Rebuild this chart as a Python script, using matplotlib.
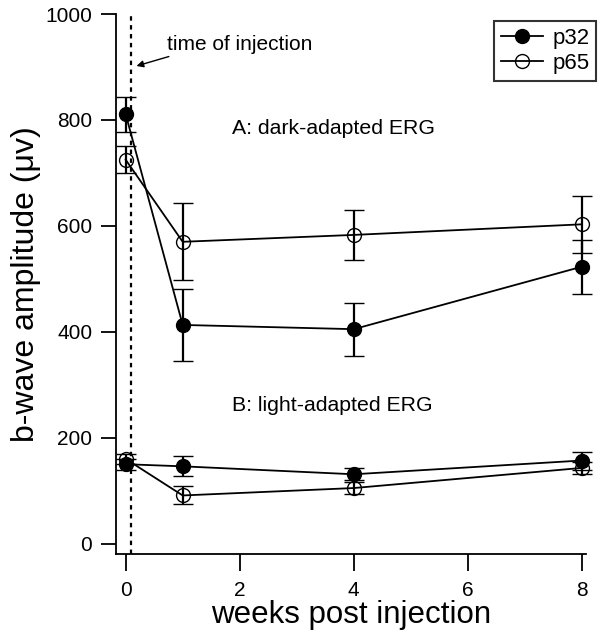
import matplotlib.pyplot as plt
from matplotlib.lines import Line2D

plt.rcParams['font.family'] = ['Liberation Sans', 'DejaVu Sans']

weeks = [0, 1, 4, 8]

# dark-adapted ERG
dark_p32 = [811, 413, 405, 523]
dark_p32_err = [33, 68, 50, 51]
dark_p65 = [725, 570, 583, 603]
dark_p65_err = [25, 73, 47, 54]

# light-adapted ERG
light_p32 = [150, 146, 131, 157]
light_p32_err = [10, 19, 11, 17]
light_p65 = [160, 91, 105, 143]
light_p65_err = [10, 17, 12, 12]

x_ticks = [0, 2, 4, 6, 8]
y_ticks = [0, 200, 400, 600, 800, 1000]

fig = plt.figure(figsize=(6.04, 6.4), dpi=100)
ax = fig.add_axes([0.192, 0.134, 0.778, 0.844])

lw = 1.3
common = dict(color='black', lw=lw, elinewidth=1.6, capsize=7, capthick=1.6,
              markersize=10, markeredgewidth=1.0, clip_on=False)

ax.errorbar(weeks, dark_p65, yerr=dark_p65_err, fmt='-o', mfc='none', **common)
ax.errorbar(weeks, dark_p32, yerr=dark_p32_err, fmt='-o', mfc='black', **common)
ax.errorbar(weeks, light_p65, yerr=light_p65_err, fmt='-o', mfc='none', **common)
ax.errorbar(weeks, light_p32, yerr=light_p32_err, fmt='-o', mfc='black', **common)

ax.axvline(0.1, color='black', lw=1.6, ls=(0, (2, 2)), zorder=0)

ax.annotate('time of injection', xy=(0.19, 902), xytext=(0.72, 943),
            fontsize=15, va='center', ha='left',
            arrowprops=dict(arrowstyle='-|>', color='black', lw=1.0,
                            shrinkA=0, shrinkB=0, mutation_scale=10,
                            relpos=(0.08, 0.0)))

ax.text(1.86, 783, 'A: dark-adapted ERG', fontsize=15.3, va='center')
ax.text(1.86, 260, 'B: light-adapted ERG', fontsize=15.3, va='center')

ax.set_xlim(-0.17, 8.07)
ax.set_ylim(-20, 1000)
ax.set_xticks(x_ticks)
ax.set_yticks(y_ticks)
ax.tick_params(axis='x', direction='out', length=12, width=1.3, labelsize=15, pad=7)
ax.tick_params(axis='y', direction='out', length=11, width=1.3, labelsize=15, pad=6)
ax.spines['top'].set_visible(False)
ax.spines['right'].set_visible(False)
ax.spines['left'].set_linewidth(1.3)
ax.spines['bottom'].set_linewidth(1.3)

ax.set_xlabel('weeks post injection', fontsize=22.5, labelpad=0)
ax.set_ylabel('b-wave amplitude (\u03bcv)', fontsize=23, labelpad=3)

handles = [
    Line2D([], [], color='black', lw=lw, marker='o', markersize=10, mfc='black'),
    Line2D([], [], color='black', lw=lw, marker='o', markersize=10, mfc='none'),
]
leg = ax.legend(handles, ['p32', 'p65'], loc='upper right',
                bbox_to_anchor=(1.045, 1.008), fontsize=16, frameon=True,
                fancybox=False, edgecolor='black', handlelength=1.9,
                borderpad=0.3, labelspacing=0.2, handletextpad=0.4)
leg.get_frame().set_linewidth(1.5)

fig.savefig('out.png', dpi=100)
